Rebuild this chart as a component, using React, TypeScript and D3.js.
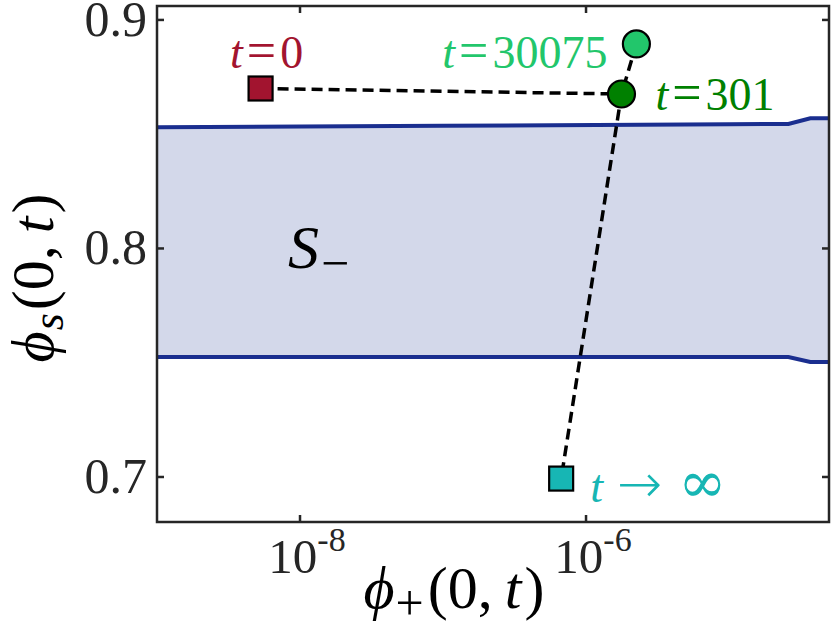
import React from "react";
import * as d3 from "d3";

// Boundary of the region S_ (upper and lower curves)
const boundaryX = [1e-9, 1e-7, 1e-5, 2.6e-5, 3.7e-5, 5e-5];
const upperBoundary = [0.853, 0.8537, 0.8543, 0.8545, 0.857, 0.857];
const lowerBoundary = [0.7525, 0.7525, 0.7525, 0.7525, 0.7503, 0.7503];

// Trajectory points
const pointNames = ["t0", "t301", "t30075", "tinf"];
const pointX = [5.3e-9, 1.77e-6, 2.25e-6, 6.7e-7];
const pointY = [0.87, 0.8676, 0.8895, 0.6993];
const pointShape = ["square", "circle", "circle", "square"];
const pointColors = ["#A2142F", "#008000", "#22C66B", "#17B6B4"];
const pointLabelNumbers = ["0", "301", "30075", ""];

// dashed connections (indices into point arrays)
const dashedPaths = [
  [0, 1],
  [2, 1, 3],
];

const xTicks = [1e-8, 1e-6];
const xTickExponents = ["-8", "-6"];
const yTicks = [0.7, 0.8, 0.9];
const yTickLabels = ["0.7", "0.8", "0.9"];

const FONT = "'Liberation Serif', 'Times New Roman', serif";

export default function App() {
  const W = 831;
  const H = 630;
  const left = 157, right = 829, top = 6, bottom = 522;

  const x = d3.scaleLog().domain([1e-9, 5e-5]).range([left, right]);
  const y = d3.scaleLinear().domain([0.6803, 0.9061]).range([bottom, top]);

  const idx = boundaryX.map((_, i) => i);
  const area = d3
    .area<number>()
    .x((i) => x(boundaryX[i]))
    .y0((i) => y(lowerBoundary[i]))
    .y1((i) => y(upperBoundary[i]));
  const upperLine = d3
    .line<number>()
    .x((i) => x(boundaryX[i]))
    .y((i) => y(upperBoundary[i]));
  const lowerLine = d3
    .line<number>()
    .x((i) => x(boundaryX[i]))
    .y((i) => y(lowerBoundary[i]));
  const trajLine = d3
    .line<number>()
    .x((i) => x(pointX[i]))
    .y((i) => y(pointY[i]));

  const axisColor = "#262626";
  const tickLen = 7;

  // label layout offsets relative to the points (pixels)
  const labelLayout = [
    { dx: 6, dy: -20, anchor: "middle" },
    { dx: 34, dy: 16, anchor: "start" },
    { dx: -29, dy: 24, anchor: "end" },
    { dx: 29, dy: 23, anchor: "start" },
  ];
  const annFont = 46;

  return (
    <svg
      width={W}
      height={H}
      viewBox={`0 0 ${W} ${H}`}
      style={{ position: "absolute", left: 0, top: 0, background: "#fff" }}
    >
      <defs>
        <clipPath id="plotclip">
          <rect x={left} y={top} width={right - left} height={bottom - top} />
        </clipPath>
      </defs>
      <g clipPath="url(#plotclip)">
        <path d={area(idx) || ""} fill="#D3D8EA" stroke="none" />
        <path d={upperLine(idx) || ""} fill="none" stroke="#1A2E8F" strokeWidth={4} />
        <path d={lowerLine(idx) || ""} fill="none" stroke="#1A2E8F" strokeWidth={4} />
      </g>

      {/* frame */}
      <rect
        x={left}
        y={top}
        width={right - left}
        height={bottom - top}
        fill="none"
        stroke={axisColor}
        strokeWidth={2.5}
      />
      {/* ticks */}
      {xTicks.map((t, i) => (
        <g key={"xt" + i}>
          <line x1={x(t)} x2={x(t)} y1={bottom} y2={bottom - tickLen} stroke={axisColor} strokeWidth={2.5} />
          <line x1={x(t)} x2={x(t)} y1={top} y2={top + tickLen} stroke={axisColor} strokeWidth={2.5} />
        </g>
      ))}
      {yTicks.map((t, i) => (
        <g key={"yt" + i}>
          <line x1={left} x2={left + tickLen} y1={y(t)} y2={y(t)} stroke={axisColor} strokeWidth={2.5} />
          <line x1={right} x2={right - tickLen} y1={y(t)} y2={y(t)} stroke={axisColor} strokeWidth={2.5} />
        </g>
      ))}

      {/* y tick labels */}
      {yTicks.map((t, i) => (
        <text
          key={"yl" + i}
          x={left - 10}
          y={y(t) + 16}
          textAnchor="end"
          fontFamily={FONT}
          fontSize={50}
          fill={axisColor}
        >
          {yTickLabels[i]}
        </text>
      ))}
      {/* x tick labels */}
      {xTicks.map((t, i) => (
        <text
          key={"xl" + i}
          x={x(t) + 7}
          y={573}
          textAnchor="middle"
          fontFamily={FONT}
          fontSize={49}
          fill={axisColor}
        >
          10
          <tspan fontSize={34} dy={-22}>
            {xTickExponents[i]}
          </tspan>
        </text>
      ))}

      {/* axis labels */}
      <text x={454} y={608} textAnchor="middle" fontFamily={FONT} fontSize={60} fill="#000">
        <tspan fontStyle="italic">ϕ</tspan>
        <tspan fontSize={50} dy={12} dx={1}>+</tspan>
        <tspan dy={-12} dx={4}>(0,</tspan>
        <tspan fontStyle="italic" dx={12}>t</tspan>
        <tspan dx={3}>)</tspan>
      </text>
      <text
        transform="translate(53,278) rotate(-90)"
        textAnchor="middle"
        fontFamily={FONT}
        fontSize={60}
        fill="#000"
      >
        <tspan fontStyle="italic">ϕ</tspan>
        <tspan fontSize={44} fontStyle="italic" dy={10} dx={1}>s</tspan>
        <tspan dy={-10} dx={3}>(0,</tspan>
        <tspan fontStyle="italic" dx={12}>t</tspan>
        <tspan dx={3}>)</tspan>
      </text>

      {/* region label */}
      <text x={288} y={268} fontFamily={FONT} fontSize={62} fontStyle="italic" fill="#000">
        S
        <tspan fontStyle="normal" fontSize={50} dy={12} dx={2}>−</tspan>
      </text>

      {/* dashed trajectory */}
      {dashedPaths.map((p, i) => (
        <path
          key={"dp" + i}
          d={trajLine(p) || ""}
          fill="none"
          stroke="#000"
          strokeWidth={3.5}
          strokeDasharray="11,6"
        />
      ))}

      {/* markers */}
      {pointNames.map((n, i) => {
        const cx = x(pointX[i]);
        const cy = y(pointY[i]);
        if (pointShape[i] === "square") {
          const s = 24;
          return (
            <rect
              key={n}
              x={cx - s / 2}
              y={cy - s / 2}
              width={s}
              height={s}
              fill={pointColors[i]}
              stroke="#000"
              strokeWidth={2.2}
            />
          );
        }
        return <circle key={n} cx={cx} cy={cy} r={13.5} fill={pointColors[i]} stroke="#000" strokeWidth={2.2} />;
      })}

      {/* point labels */}
      {pointNames.map((n, i) => {
        const L = labelLayout[i];
        const lx = x(pointX[i]) + L.dx;
        const ly = y(pointY[i]) + L.dy;
        if (n === "tinf") {
          return (
            <text key={"lab" + n} x={lx} y={ly} textAnchor={L.anchor as any} fontFamily={FONT} fontSize={annFont} fill={pointColors[i]}>
              <tspan fontStyle="italic">t</tspan>
              <tspan dx={14} fontFamily="'DejaVu Sans', sans-serif" fontSize={54} fontWeight={300}>→</tspan>
              <tspan dx={16} fontFamily="'DejaVu Serif', serif" fontSize={58} fontWeight={300}>∞</tspan>
            </text>
          );
        }
        return (
          <text key={"lab" + n} x={lx} y={ly} textAnchor={L.anchor as any} fontFamily={FONT} fontSize={annFont} fill={pointColors[i]}>
            <tspan fontStyle="italic">t</tspan>
            <tspan dx={4} fontSize={52}>=</tspan>
            <tspan dx={4}>{pointLabelNumbers[i]}</tspan>
          </text>
        );
      })}
    </svg>
  );
}
